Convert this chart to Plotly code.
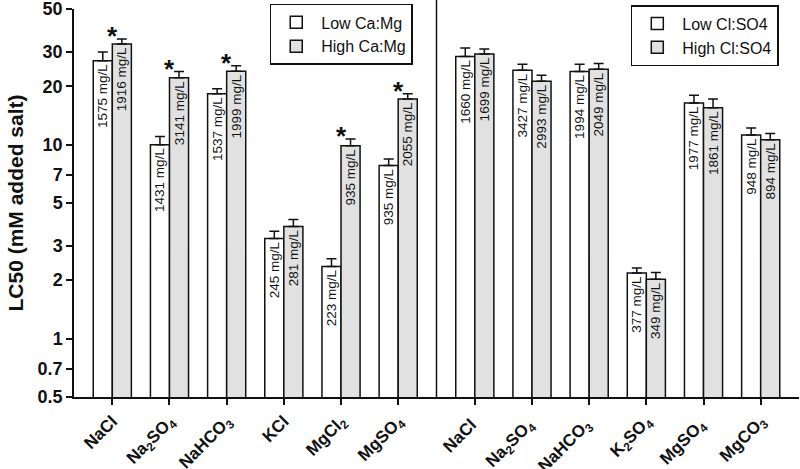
import math
import plotly.graph_objects as go
from plotly.subplots import make_subplots

# ---------------- data ----------------
left_salts = ["NaCl", "Na<sub>2</sub>SO<sub>4</sub>", "NaHCO<sub>3</sub>", "KCl",
              "MgCl<sub>2</sub>", "MgSO<sub>4</sub>"]
left_low = [27.1, 10.0, 18.3, 3.28, 2.35, 7.8]
left_low_err = [2.9, 1.0, 1.1, 0.30, 0.23, 0.64]
left_high = [33.0, 22.1, 23.9, 3.78, 9.88, 17.2]
left_high_err = [2.1, 1.7, 1.6, 0.33, 0.82, 1.1]
left_low_lbl = ["1575 mg/L", "1431 mg/L", "1537 mg/L", "245 mg/L", "223 mg/L", "935 mg/L"]
left_high_lbl = ["1916 mg/L", "3141 mg/L", "1999 mg/L", "281 mg/L", "935 mg/L", "2055 mg/L"]
left_sig = [True, True, True, False, True, True]

right_salts = ["NaCl ", "Na<sub>2</sub>SO<sub>4</sub> ", "NaHCO<sub>3</sub> ",
               "K<sub>2</sub>SO<sub>4</sub>", "MgSO<sub>4</sub> ", "MgCO<sub>3</sub>"]
right_low = [28.5, 24.2, 23.8, 2.18, 16.4, 11.2]
right_low_err = [3.0, 1.8, 2.2, 0.13, 1.6, 1.0]
right_high = [29.3, 21.2, 24.5, 2.02, 15.5, 10.6]
right_high_err = [1.8, 1.6, 1.7, 0.17, 1.7, 0.8]
right_low_lbl = ["1660 mg/L", "3427 mg/L", "1994 mg/L", "377 mg/L", "1977 mg/L", "948 mg/L"]
right_high_lbl = ["1699 mg/L", "2993 mg/L", "2049 mg/L", "349 mg/L", "1861 mg/L", "894 mg/L"]

y_ticks = [0.5, 0.7, 1, 2, 3, 5, 7, 10, 20, 30, 50]
y_tick_text = ["0.5", "0.7", "1", "2", "3", "5", "7", "10", "20", "30", "50"]

FONT = "Arial, Liberation Sans, Helvetica, sans-serif"
WHITE = "#ffffff"
GRAY = "#e1e1e1"
INK = "#111111"

fig = make_subplots(rows=1, cols=2, shared_yaxes=True, horizontal_spacing=0)


def add_bar(col, x, y, err, labels, name, color, legend):
    fig.add_trace(go.Bar(
        x=x, y=y, name=name, legend=legend,
        marker=dict(color=color, line=dict(color=INK, width=1.5)),
        error_y=dict(type="data", symmetric=False, array=err,
                     arrayminus=[0] * len(err), color=INK,
                     thickness=1.5, width=5),
        text=labels, textposition="inside", insidetextanchor="end",
        textangle=-90, constraintext="none",
        textfont=dict(family=FONT, size=13.5, color=INK),
        cliponaxis=False,
    ), row=1, col=col)


add_bar(1, left_salts, left_low, left_low_err, left_low_lbl, "Low Ca:Mg", WHITE, "legend")
add_bar(1, left_salts, left_high, left_high_err, left_high_lbl, "High Ca:Mg", GRAY, "legend")
add_bar(2, right_salts, right_low, right_low_err, right_low_lbl, "Low Cl:SO4", WHITE, "legend2")
add_bar(2, right_salts, right_high, right_high_err, right_high_lbl, "High Cl:SO4", GRAY, "legend2")

# significance asterisks above high Ca:Mg bars (centred on the salt)
for s, v, e, sig in zip(left_salts, left_high, left_high_err, left_sig):
    if sig:
        fig.add_annotation(x=s, y=math.log10(v + e), xref="x", yref="y",
                           text="<b>*</b>", showarrow=False,
                           font=dict(family=FONT, size=26, color=INK),
                           yanchor="middle", yshift=3)

fig.update_layout(
    width=800, height=469,
    margin=dict(l=74, r=1, t=9, b=72, autoexpand=False),
    paper_bgcolor="white", plot_bgcolor="white",
    barmode="group", bargap=1 / 3, bargroupgap=0,
    font=dict(family=FONT, color=INK),
    legend=dict(x=0.270, y=1.013, xanchor="left", yanchor="top",
                bordercolor=INK, borderwidth=1.5, bgcolor="white",
                font=dict(family=FONT, size=16), itemwidth=40,
                tracegroupgap=0),
    legend2=dict(x=0.768, y=1.010, xanchor="left", yanchor="top",
                 bordercolor=INK, borderwidth=1.5, bgcolor="white",
                 font=dict(family=FONT, size=16), itemwidth=40,
                 tracegroupgap=0),
    showlegend=True,
)

fig.update_xaxes(type="category", range=[-0.67, 5.67], showline=True,
                 linecolor=INK, linewidth=1.5, ticks="outside",
                 ticklen=6, tickwidth=1.5, tickcolor=INK, tickangle=-45,
                 tickfont=dict(family=FONT, size=17, color=INK),
                 tickprefix="<b>", ticksuffix="</b>",
                 ticklabeloverflow="allow",
                 showgrid=False, zeroline=False, automargin=False)

fig.update_yaxes(type="log", range=[math.log10(0.5) - 0.0005, math.log10(50) + 0.0005],
                 showgrid=False, zeroline=False, automargin=False)
fig.update_yaxes(row=1, col=1, showline=True, linecolor=INK, linewidth=1.5,
                 ticks="outside", ticklen=6, tickwidth=1.5, tickcolor=INK,
                 tickvals=y_ticks, ticktext=["<b>" + t + "</b>" for t in y_tick_text],
                 tickfont=dict(family=FONT, size=18, color=INK),
                 ticklabeloverflow="allow",
                 title=dict(text="<b>LC50 (mM added salt)</b>", standoff=8,
                            font=dict(family=FONT, size=21, color=INK)))
fig.update_yaxes(row=1, col=2, showticklabels=False, ticks="", showline=False)

# vertical divider between the two panels
fig.add_shape(type="line", xref="paper", yref="paper", x0=0.5, x1=0.5,
              y0=0, y1=1.025, line=dict(color=INK, width=1.5))

fig.write_html("out.html", config={"displayModeBar": False},
               post_script="document.body.style.margin='0';")
